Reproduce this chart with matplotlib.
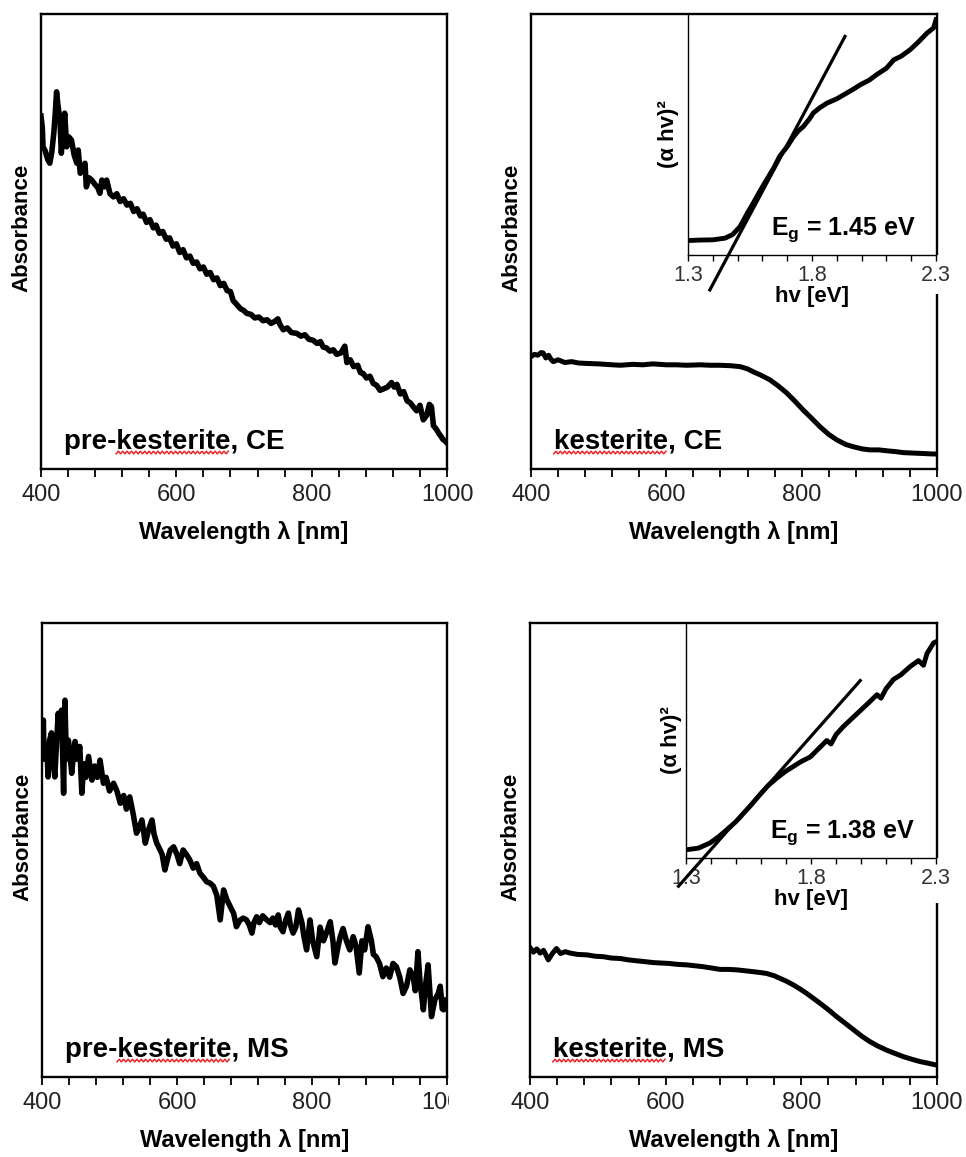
"""
UV-Vis absorbance of pre-kesterite / kesterite films (CE and MS) with Tauc-plot insets.
"""
import numpy as np
import matplotlib
matplotlib.use("Agg")
import matplotlib.pyplot as plt
from matplotlib.patches import Rectangle
from matplotlib.ticker import MultipleLocator

plt.rcParams["font.family"] = ["Liberation Sans", "DejaVu Sans"]
plt.rcParams["mathtext.fontset"] = "custom"
plt.rcParams["mathtext.rm"] = "Liberation Sans"
plt.rcParams["mathtext.bf"] = "Liberation Sans:bold"

W, H = 966, 1157

# ---- data (absorbance in arbitrary units 0..1) ----
pre_ce_wl = [400, 402, 403, 406, 410, 413, 416, 419, 421, 423, 425, 428, 430, 433, 435, 438, 441, 445,
             449, 453, 455, 458, 462, 465, 467, 471, 475, 480, 484, 487, 490, 494, 497, 502, 507, 512,
             517, 522, 527, 532, 537, 542, 547, 551, 556, 561, 566, 570, 575, 580, 585, 590, 595, 600,
             605, 610, 615, 620, 625, 630, 635, 640, 645, 650, 655, 660, 665, 670, 675, 680, 684, 689,
             695, 700, 704, 710, 716, 722, 728, 734, 740, 746, 750, 753, 758, 764, 770, 778, 784, 790,
             796, 802, 808, 813, 817, 822, 827, 832, 837, 843, 849, 852, 857, 862, 868, 872, 876, 881,
             886, 891, 896, 901, 906, 912, 918, 922, 926, 931, 936, 941, 946, 950, 955, 960, 965, 970,
             974, 977, 980, 984, 988, 991, 994, 997, 1000]
pre_ce_abs = [0.776, 0.750, 0.708, 0.700, 0.680, 0.672, 0.697, 0.740, 0.780, 0.829, 0.800, 0.767, 0.694,
              0.740, 0.782, 0.708, 0.730, 0.723, 0.690, 0.672, 0.701, 0.650, 0.660, 0.672, 0.620, 0.640,
              0.635, 0.625, 0.618, 0.606, 0.635, 0.620, 0.635, 0.605, 0.598, 0.605, 0.588, 0.594, 0.580,
              0.584, 0.566, 0.572, 0.556, 0.560, 0.542, 0.548, 0.530, 0.536, 0.518, 0.522, 0.505, 0.508,
              0.490, 0.495, 0.476, 0.482, 0.464, 0.468, 0.452, 0.455, 0.440, 0.444, 0.428, 0.432, 0.416,
              0.420, 0.403, 0.408, 0.392, 0.390, 0.370, 0.362, 0.352, 0.348, 0.342, 0.340, 0.332, 0.334,
              0.326, 0.328, 0.320, 0.325, 0.330, 0.318, 0.306, 0.310, 0.300, 0.298, 0.292, 0.295, 0.285,
              0.283, 0.276, 0.280, 0.268, 0.266, 0.259, 0.262, 0.252, 0.255, 0.270, 0.234, 0.240, 0.225,
              0.228, 0.212, 0.210, 0.200, 0.204, 0.188, 0.184, 0.173, 0.176, 0.180, 0.190, 0.180, 0.186,
              0.165, 0.170, 0.150, 0.145, 0.137, 0.128, 0.140, 0.108, 0.118, 0.142, 0.137, 0.095, 0.088,
              0.078, 0.072, 0.065, 0.062, 0.057]

pre_ms_wl = [400, 402, 403, 407, 409, 411, 414, 416, 419, 421, 424, 426, 429, 432, 434, 436, 439, 441,
             444, 446, 449, 452, 456, 459, 462, 465, 469, 474, 478, 482, 486, 491, 495, 500, 506, 511,
             516, 521, 525, 530, 535, 540, 544, 548, 553, 558, 563, 566, 570, 575, 578, 582, 586, 590,
             595, 600, 604, 609, 614, 619, 624, 629, 634, 639, 644, 649, 654, 659, 664, 669, 674, 679,
             684, 688, 693, 698, 703, 707, 711, 714, 718, 722, 727, 733, 738, 742, 746, 750, 753, 757,
             761, 765, 768, 772, 776, 780, 785, 788, 792, 797, 801, 807, 812, 817, 822, 827, 831, 834,
             839, 842, 846, 851, 856, 861, 865, 870, 874, 878, 883, 888, 891, 895, 900, 905, 910, 915,
             920, 925, 930, 935, 940, 945, 950, 953, 957, 960, 965, 968, 972, 977, 982, 987, 990, 993,
             995, 997, 1000]
pre_ms_abs = [0.720, 0.786, 0.700, 0.728, 0.661, 0.740, 0.758, 0.700, 0.661, 0.720, 0.801, 0.750, 0.808,
              0.625, 0.830, 0.700, 0.742, 0.720, 0.669, 0.700, 0.739, 0.700, 0.728, 0.625, 0.690, 0.660,
              0.706, 0.654, 0.685, 0.660, 0.698, 0.647, 0.660, 0.630, 0.647, 0.630, 0.603, 0.620, 0.590,
              0.617, 0.580, 0.537, 0.550, 0.566, 0.515, 0.545, 0.566, 0.535, 0.515, 0.500, 0.490, 0.456,
              0.480, 0.500, 0.507, 0.490, 0.470, 0.500, 0.490, 0.478, 0.460, 0.470, 0.449, 0.440, 0.430,
              0.427, 0.420, 0.400, 0.346, 0.412, 0.390, 0.375, 0.360, 0.331, 0.345, 0.350, 0.346, 0.335,
              0.317, 0.340, 0.353, 0.340, 0.355, 0.346, 0.340, 0.350, 0.335, 0.357, 0.330, 0.320, 0.345,
              0.361, 0.335, 0.317, 0.330, 0.368, 0.340, 0.310, 0.280, 0.346, 0.300, 0.265, 0.330, 0.300,
              0.320, 0.342, 0.300, 0.251, 0.290, 0.310, 0.327, 0.300, 0.280, 0.309, 0.290, 0.229, 0.300,
              0.280, 0.331, 0.300, 0.270, 0.265, 0.250, 0.221, 0.240, 0.220, 0.250, 0.243, 0.220, 0.184,
              0.200, 0.236, 0.220, 0.190, 0.276, 0.210, 0.148, 0.200, 0.247, 0.133, 0.170, 0.184, 0.200,
              0.150, 0.148, 0.170, 0.160]

kes_ce_wl = [400, 405, 410, 415, 418, 422, 426, 430, 433, 440, 450, 460, 470, 482, 500, 520, 532, 550,
             565, 580, 600, 615, 630, 650, 665, 679, 695, 709, 720, 728, 740, 753, 765, 778, 790, 802,
             815, 827, 840, 852, 865, 876, 890, 901, 914, 926, 940, 950, 965, 980, 994, 1000]
kes_ce_abs = [0.247, 0.252, 0.250, 0.256, 0.255, 0.244, 0.250, 0.240, 0.236, 0.240, 0.234, 0.236, 0.233,
              0.232, 0.231, 0.229, 0.228, 0.230, 0.229, 0.231, 0.229, 0.229, 0.228, 0.229, 0.228, 0.228,
              0.227, 0.225, 0.220, 0.214, 0.206, 0.196, 0.183, 0.167, 0.149, 0.130, 0.111, 0.093, 0.076,
              0.064, 0.054, 0.049, 0.044, 0.042, 0.042, 0.040, 0.038, 0.036, 0.035, 0.034, 0.033, 0.033]

kes_ms_wl = [400, 405, 410, 415, 420, 427, 433, 439, 445, 452, 459, 470, 484, 496, 508, 520, 533, 545,
             557, 570, 582, 594, 606, 618, 631, 643, 655, 668, 680, 693, 705, 717, 729, 740, 749, 760,
             769, 778, 788, 798, 808, 818, 828, 840, 852, 865, 877, 889, 901, 913, 926, 938, 950, 963,
             975, 988, 1000]
kes_ms_abs = [0.285, 0.275, 0.282, 0.273, 0.279, 0.258, 0.272, 0.283, 0.272, 0.276, 0.273, 0.270, 0.269,
              0.266, 0.265, 0.262, 0.261, 0.258, 0.256, 0.254, 0.252, 0.251, 0.250, 0.248, 0.247, 0.245,
              0.243, 0.240, 0.237, 0.237, 0.236, 0.234, 0.232, 0.230, 0.228, 0.223, 0.217, 0.211, 0.203,
              0.194, 0.184, 0.173, 0.162, 0.148, 0.133, 0.118, 0.104, 0.090, 0.078, 0.068, 0.059, 0.052,
              0.045, 0.039, 0.034, 0.030, 0.026]

# Tauc plots (hv in eV, (alpha hv)^2 in a.u.)
tauc_ce_ev = [1.30, 1.35, 1.40, 1.45, 1.48, 1.51, 1.54, 1.563, 1.59, 1.617, 1.645, 1.67, 1.70, 1.725,
              1.745, 1.765, 1.79, 1.805, 1.83, 1.86, 1.90, 1.94, 1.97, 1.994, 2.03, 2.06, 2.10, 2.13,
              2.16, 2.196, 2.23, 2.264, 2.29, 2.30]
tauc_ce_val = [0.060, 0.062, 0.063, 0.070, 0.085, 0.118, 0.175, 0.215, 0.265, 0.312, 0.360, 0.410, 0.450,
               0.490, 0.515, 0.533, 0.565, 0.589, 0.610, 0.630, 0.648, 0.672, 0.690, 0.706, 0.725, 0.748,
               0.775, 0.810, 0.825, 0.852, 0.885, 0.921, 0.942, 0.976]
tauc_ce_fit_ev = [1.388, 1.933]
tauc_ce_fit = [-0.145, 0.907]

tauc_ms_ev = [1.30, 1.35, 1.396, 1.43, 1.463, 1.50, 1.53, 1.56, 1.596, 1.63, 1.663, 1.70, 1.73, 1.76,
              1.797, 1.83, 1.863, 1.88, 1.90, 1.93, 1.96, 2.00, 2.03, 2.064, 2.08, 2.10, 2.13, 2.16,
              2.197, 2.23, 2.25, 2.264, 2.29, 2.30]
tauc_ms_val = [0.035, 0.042, 0.064, 0.090, 0.120, 0.155, 0.190, 0.225, 0.270, 0.310, 0.340, 0.370, 0.390,
               0.410, 0.430, 0.465, 0.500, 0.485, 0.525, 0.560, 0.590, 0.630, 0.660, 0.695, 0.680, 0.720,
               0.760, 0.780, 0.815, 0.840, 0.820, 0.870, 0.915, 0.920]
tauc_ms_fit_ev = [1.27, 1.997]
tauc_ms_fit = [-0.12, 0.755]

panels = [
    # (wl, abs, label, prefix, line width, (l, t, r, b) in px)
    (pre_ce_wl, pre_ce_abs, "pre-kesterite, CE", "pre-", 4.0, (41, 14, 447, 469)),
    (kes_ce_wl, kes_ce_abs, "kesterite, CE", "", 3.6, (531, 14, 937, 469)),
    (pre_ms_wl, pre_ms_abs, "pre-kesterite, MS", "pre-", 4.0, (42, 623, 447, 1077)),
    (kes_ms_wl, kes_ms_abs, "kesterite, MS", "", 3.6, (530, 623, 937, 1077)),
]
insets = [
    (tauc_ce_ev, tauc_ce_val, tauc_ce_fit_ev, tauc_ce_fit, "1.45", (688, 14, 936, 255), -0.16, -0.035),
    (tauc_ms_ev, tauc_ms_val, tauc_ms_fit_ev, tauc_ms_fit, "1.38", (686, 623, 936, 858), -0.19, -0.015),
]

LABEL_FS = 20


def rect(l, t, r, b):
    return [l / W, 1 - b / H, (r - l) / W, (b - t) / H]


def squiggle(fig, ax, txt, prefix, word, fs):
    """red spell-check wavy underline under `word`"""
    r = fig.canvas.get_renderer()
    bb = txt.get_window_extent(r)
    tmp = ax.text(0, 0, prefix + "x", fontsize=fs, fontweight="bold")
    w_pre = tmp.get_window_extent(r).width
    tmp.set_text("x")
    w_pre -= tmp.get_window_extent(r).width
    tmp.set_text(word)
    w_word = tmp.get_window_extent(r).width
    tmp.remove()
    x0 = bb.x0 + (w_pre if prefix else 0)
    xs = np.arange(x0, x0 + w_word, 2.2)
    ys = bb.y0 + 2.0 + np.where(np.arange(len(xs)) % 2 == 0, -1.3, 1.3)
    pts = fig.transFigure.inverted().transform(np.column_stack([xs, ys]))
    fig.lines.append(plt.Line2D(pts[:, 0], pts[:, 1], color="#e8262a", lw=1.1,
                                transform=fig.transFigure))


fig = plt.figure(figsize=(W / 100, H / 100), dpi=100)

label_texts = []
for wl, ab, label, prefix, lw, box in panels:
    ax = fig.add_axes(rect(*box))
    ax.plot(wl, ab, color="black", lw=lw, solid_joinstyle="round")
    ax.set_xlim(400, 1000)
    ax.set_ylim(0, 1)
    ax.set_yticks([])
    ax.set_xticks([400, 600, 800, 1000])
    ax.xaxis.set_minor_locator(MultipleLocator(40))
    ax.tick_params(axis="x", which="both", direction="out", length=6, width=1.3,
                   labelsize=17, pad=5, labelcolor="#222222")
    for s in ax.spines.values():
        s.set_linewidth(1.7)
    ax.set_xlabel("Wavelength λ [nm]", fontsize=17, fontweight="bold")
    ax.xaxis.set_label_coords(0.5, -0.115)
    ax.set_ylabel("Absorbance", fontsize=16, fontweight="bold")
    ax.yaxis.set_label_coords(-0.02, 0.53)
    t = ax.text(0.056, 0.045, label, transform=ax.transAxes, fontsize=LABEL_FS, fontweight="bold")
    label_texts.append((ax, t, prefix))

for ev, val, fit_ev, fit, eg, box, gap, ylab_x in insets:
    ax = fig.add_axes(rect(*box))
    ax.set_facecolor("none")
    ax.plot(ev, val, color="black", lw=3.5)
    ax.plot(fit_ev, fit, color="black", lw=2.3, clip_on=False)
    ax.set_xlim(1.3, 2.3)
    ax.set_ylim(0, 1)
    ax.set_yticks([])
    ax.set_xticks([1.3, 1.8, 2.3])
    ax.xaxis.set_minor_locator(MultipleLocator(0.1))
    ax.tick_params(axis="x", which="both", direction="out", length=4, width=1.0,
                   labelsize=15.5, pad=3, labelcolor="#333333")
    for side in ("top", "right"):
        ax.spines[side].set_visible(False)
    for side in ("left", "bottom"):
        ax.spines[side].set_linewidth(1.0)
    ax.set_xlabel("hv [eV]", fontsize=16, fontweight="bold", labelpad=0)
    ax.set_ylabel("(α hv)²", fontsize=16, fontweight="bold")
    ax.yaxis.set_label_coords(ylab_x, 0.5)
    ax.text(0.335, 0.085, r"$\mathbf{E_g}$ = " + eg + " eV", transform=ax.transAxes,
            fontsize=18, fontweight="bold")
    # white patch behind the 2.3 label, hiding the outer frame there
    ax.add_patch(Rectangle((0.93, gap), 0.12, -gap, transform=ax.transAxes,
                           facecolor="white", edgecolor="none", clip_on=False, zorder=1))

fig.canvas.draw()
for ax, t, prefix in label_texts:
    squiggle(fig, ax, t, prefix, "kesterite", LABEL_FS)

# the last tick label of the lower-left panel is cut off in the original
fig.patches.append(Rectangle((449 / W, 1 - 1115 / H), 50 / W, 32 / H, transform=fig.transFigure,
                             facecolor="white", edgecolor="none", zorder=5))

fig.savefig("out.png", dpi=100)
